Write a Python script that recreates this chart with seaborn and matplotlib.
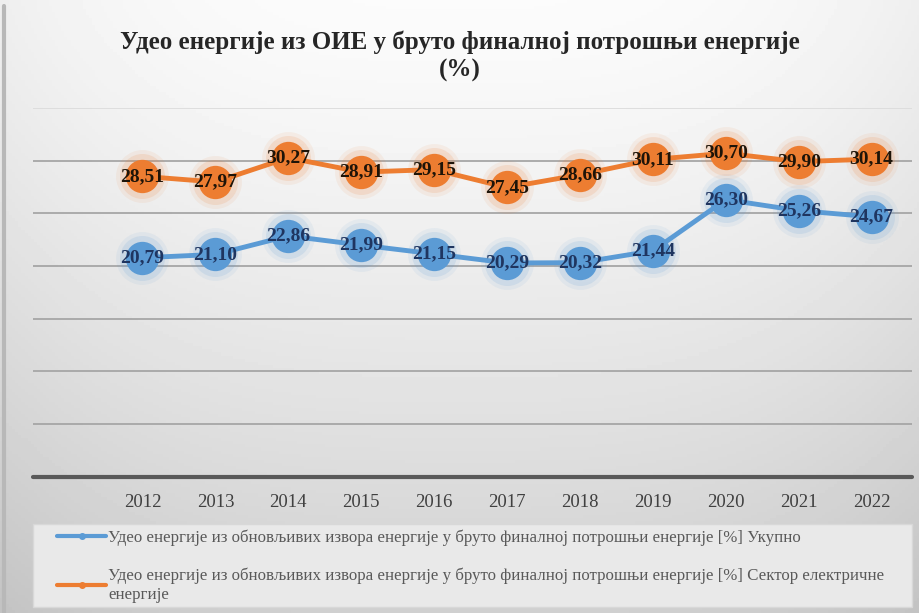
import matplotlib.pyplot as plt
import numpy as np
import pandas as pd
import seaborn as sns
from matplotlib.lines import Line2D
from matplotlib.patches import Rectangle

years = ["2012", "2013", "2014", "2015", "2016", "2017", "2018", "2019", "2020", "2021", "2022"]
ukupno = [20.79, 21.10, 22.86, 21.99, 21.15, 20.29, 20.32, 21.44, 26.30, 25.26, 24.67]
elektro = [28.51, 27.97, 30.27, 28.91, 29.15, 27.45, 28.66, 30.11, 30.70, 29.90, 30.14]

title = "Удео енергије из ОИЕ у бруто финалној потрошњи енергије\n(%)"
name_ukupno = "Удео енергије из обновљивих извора енергије у бруто финалној потрошњи енергије [%] Укупно"
name_elektro = ("Удео енергије из обновљивих извора енергије у бруто финалној потрошњи енергије [%] Сектор електричне\n"
                "енергије")

df = pd.DataFrame({"year": years, "ukupno": ukupno, "elektro": elektro})
df["x"] = range(len(df))

sns.set_theme(style="white")
plt.rcParams["font.family"] = ["Liberation Serif", "DejaVu Serif"]

BLUE = "#5b9bd5"
ORANGE = "#ed7d31"

fig = plt.figure(figsize=(9.2, 6.13), dpi=100)

# background gradient (light at top, grey towards the bottom and sides)
bg = fig.add_axes([0, 0, 1, 1], zorder=-10)
yy = np.linspace(0, 1, 200)[:, None]
xx = np.linspace(-1, 1, 300)[None, :]
shade = 0.985 - 0.17 * yy ** 1.3 - 0.05 * np.abs(xx) ** 3
bg.imshow(shade, cmap="gray", vmin=0, vmax=1, aspect="auto", extent=[0, 1, 0, 1])
bg.plot([0.004, 0.004], [0, 0.99], color="#b8b8b8", lw=3)
# legend box
bg.add_patch(Rectangle((33 / 920, 1 - 607 / 613), 879 / 920, 83 / 613,
                       facecolor="#e9e9e9", edgecolor="#d8d8d8", lw=1))
bg.set_xlim(0, 1)
bg.set_ylim(0, 1)
bg.axis("off")

ax = fig.add_axes([0.036, 0.222, 0.955, 0.602])
ax.patch.set_alpha(0)

for col, color, txtcolor, label in [
    ("ukupno", BLUE, "#1f3560", name_ukupno),
    ("elektro", ORANGE, "#1e1408", name_elektro),
]:
    # soft glow behind markers
    ax.scatter(df["x"], df[col], s=1450, color=color, alpha=0.08, lw=0, zorder=3)
    ax.scatter(df["x"], df[col], s=1050, color=color, alpha=0.14, lw=0, zorder=3)
    sns.lineplot(data=df, x="x", y=col, ax=ax, color=color, lw=3.5, marker="o",
                 markersize=24, markeredgewidth=0, label=label, zorder=4, legend=False)
    for xi, v in zip(df["x"], df[col]):
        ax.text(xi, v, f"{v:.2f}".replace(".", ","), ha="center", va="center",
                fontsize=14, fontweight="bold", color=txtcolor, zorder=5)

ax.set_xlim(-1.5, 10.55)
ax.set_ylim(0, 35)
ax.set_yticks(range(5, 36, 5))
ax.yaxis.grid(True, color="#a6a6a6", lw=1.3)
ax.get_ygridlines()[-1].set_color("#dcdcdc")
ax.set_axisbelow(True)
ax.axhline(0, color="#595959", lw=3, zorder=2, clip_on=False)
ax.tick_params(axis="y", left=False, labelleft=False)
ax.set_xticks(df["x"])
ax.set_xticklabels(years, fontsize=13.5, color="#404040")
ax.tick_params(axis="x", bottom=False, pad=6)
ax.set_xlabel("")
ax.set_ylabel("")
for s in ax.spines.values():
    s.set_visible(False)

fig.text(0.5, 0.908, title, ha="center", va="center", fontsize=18, fontweight="bold",
         color="#262626", linespacing=1.25)

handles = [
    Line2D([], [], color=BLUE, lw=3, marker="o", markersize=4),
    Line2D([], [], color=ORANGE, lw=3, marker="o", markersize=4),
]
leg = fig.legend(handles, [name_ukupno, name_elektro], loc="upper left",
                 bbox_to_anchor=(52 / 920, 1 - 524 / 613), frameon=False, fontsize=12.2,
                 handlelength=2.9, handletextpad=0.1, labelspacing=1.3,
                 borderpad=0.3, borderaxespad=0)
for t in leg.get_texts():
    t.set_color("#595959")
    t.set_linespacing(1.2)

fig.savefig("out.png", dpi=100)
